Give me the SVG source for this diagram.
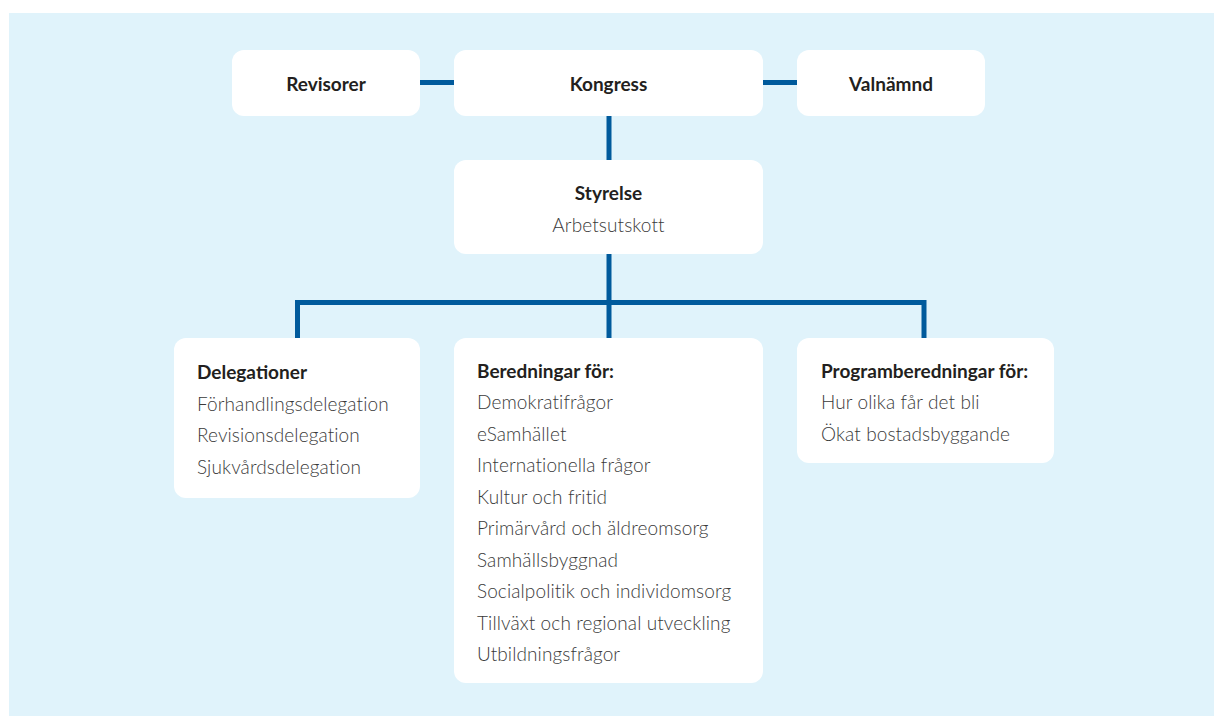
<svg xmlns="http://www.w3.org/2000/svg" width="1214" height="716" viewBox="0 0 1214 716">
<style>
.box{fill:#ffffff}
.b{font-family:Lato,"Noto Sans","Liberation Sans",sans-serif;font-weight:bold;font-size:19px;fill:#231f20}
.r{font-family:Lato,"Noto Sans","Liberation Sans",sans-serif;font-weight:300;font-size:19px;letter-spacing:0.1px;fill:#3a3a3a}
.c{text-anchor:middle}
.ln{stroke:#005a9c;stroke-width:5;fill:none}
</style>
<rect x="0" y="0" width="1214" height="716" fill="#ffffff"/>
<rect x="9" y="13" width="1205" height="703" fill="#e0f3fb"/>
<g id="connectors">
<line class="ln" x1="420" y1="82.5" x2="454" y2="82.5"/>
<line class="ln" x1="763" y1="82.5" x2="797" y2="82.5"/>
<line class="ln" x1="609" y1="116" x2="609" y2="160"/>
<line class="ln" x1="609" y1="254" x2="609" y2="338"/>
<polyline class="ln" points="297.5,338 297.5,302.5 924,302.5 924,338"/>
</g>
<g id="revisorer">
<rect class="box" x="232" y="50" width="188" height="66" rx="12"/>
<text class="b c" x="326" y="91">Revisorer</text>
</g>
<g id="kongress">
<rect class="box" x="454" y="50" width="309" height="66" rx="12"/>
<text class="b c" x="608.5" y="91">Kongress</text>
</g>
<g id="valnamnd">
<rect class="box" x="797" y="50" width="188" height="66" rx="12"/>
<text class="b c" x="891" y="91">Valnämnd</text>
</g>
<g id="styrelse">
<rect class="box" x="454" y="160" width="309" height="94" rx="12"/>
<text class="b c" x="608.5" y="200">Styrelse</text>
<text class="r c" x="608.5" y="232">Arbetsutskott</text>
</g>
<g id="delegationer">
<rect class="box" x="174" y="338" width="246" height="160" rx="12"/>
<text class="b" x="197" y="378.5">Delegationer</text>
<text class="r" x="197" y="410.5">Förhandlingsdelegation</text>
<text class="r" x="197" y="442">Revisionsdelegation</text>
<text class="r" x="197" y="473.5">Sjukvårdsdelegation</text>
</g>
<g id="beredningar">
<rect class="box" x="454" y="338" width="309" height="345" rx="12"/>
<text class="b" x="477" y="377.5">Beredningar för:</text>
<text class="r" x="477" y="409">Demokratifrågor</text>
<text class="r" x="477" y="440.5">eSamhället</text>
<text class="r" x="477" y="472">Internationella frågor</text>
<text class="r" x="477" y="503.5">Kultur och fritid</text>
<text class="r" x="477" y="535">Primärvård och äldreomsorg</text>
<text class="r" x="477" y="566.5">Samhällsbyggnad</text>
<text class="r" x="477" y="598">Socialpolitik och individomsorg</text>
<text class="r" x="477" y="629.5">Tillväxt och regional utveckling</text>
<text class="r" x="477" y="661">Utbildningsfrågor</text>
</g>
<g id="programberedningar">
<rect class="box" x="797" y="338" width="257" height="125" rx="12"/>
<text class="b" x="821" y="377.5">Programberedningar för:</text>
<text class="r" x="821" y="409">Hur olika får det bli</text>
<text class="r" x="821" y="440.5">Ökat bostadsbyggande</text>
</g>
</svg>
